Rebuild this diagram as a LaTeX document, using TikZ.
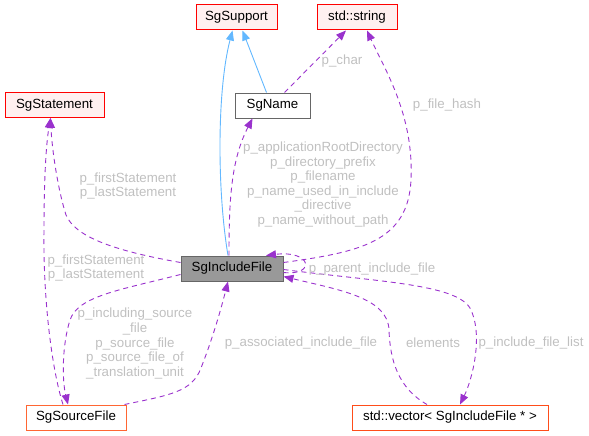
\documentclass[tikz,border=0pt]{standalone}
\usepackage{fontspec}
\setmainfont{Liberation Sans}
\usepackage{tikz}
\usetikzlibrary{arrows.meta, positioning, calc}
\definecolor{usagepurple}{HTML}{9A32CD}
\definecolor{inheritblue}{HTML}{63B8FF}
\definecolor{labelgray}{HTML}{C0C0C0}
\definecolor{pinkfill}{HTML}{FFF0F0}
\definecolor{darkline}{HTML}{666666}
\definecolor{curfill}{HTML}{999999}
\definecolor{orangeline}{HTML}{FF6633}
\definecolor{redorangeline}{HTML}{FF4D1A}
\tikzset{
  classbox/.style={draw, line width=1pt, minimum height=25pt, inner sep=0pt, text=black},
  redbox/.style={classbox, draw=red, fill=pinkfill},
  plainbox/.style={classbox, draw=darkline, fill=white},
  curbox/.style={classbox, draw=darkline, fill=curfill},
  orangebox/.style={classbox, draw=orangeline, fill=white},
  usage/.style={usagepurple, line width=0.9pt, dash pattern=on 5pt off 4pt, -{Triangle[length=10pt, width=8pt]}},
  inherit/.style={inheritblue, line width=0.9pt, -{Triangle[length=10pt, width=8pt]}},
  edgelabel/.style={text=labelgray, align=center, inner sep=0pt}
}
\begin{document}
\begin{tikzpicture}[x=1pt, y=-1pt, font=\fontsize{13.3}{14.6}\selectfont]
\useasboundingbox (0,0) rectangle (589,436);
\node[redbox, minimum width=81pt] (support) at (236.5,17.5) {SgSupport};
\node[redbox, minimum width=80pt] (string) at (357,17.5) {std::string};
\node[redbox, minimum width=99pt] (statement) at (54.5,105) {SgStatement};
\node[plainbox, minimum width=75pt] (name) at (272.5,105.5) {SgName};
\node[curbox, minimum width=102pt] (include) at (232,268.5) {SgIncludeFile};
\node[orangebox, minimum width=100pt] (source) at (76,417.5) {SgSourceFile};
\node[orangebox, draw=redorangeline, minimum width=196pt] (vector) at (450,417.5) {std::vector< SgIncludeFile * >};
\draw[inherit] ([xshift=-4pt]include.north) .. controls (217,190) and (217,90) .. ([xshift=-4pt]support.south);
\draw[inherit] ([xshift=-6pt]name.north) -- ([xshift=6pt]support.south);
\draw[usage] ([xshift=12pt]name.north) -- ([xshift=-11pt]string.south);
\draw[usage] ([yshift=6pt]include.east) .. controls (360,252) and (408,242) .. (411,180) .. controls (414,115) and (385,70) .. ([xshift=10pt]string.south);
\draw[usage] ([xshift=-3pt]include.north) .. controls (229,200) and (231,160) .. ([xshift=-20pt]name.south);
\draw[usage] ([yshift=6pt]include.west) .. controls (110,250) and (75,236) .. (66,215) .. controls (58,190) and (52,150) .. ([xshift=-4pt]statement.south);
\draw[usage] ([xshift=-13pt]source.north) .. controls (52,370) and (43,300) .. (44,230) .. controls (44,180) and (46,145) .. ([xshift=-4pt]statement.south);
\draw[usage] ([yshift=-6pt]include.west) .. controls (120,290) and (78,296) .. (70,320) .. controls (62,345) and (62,380) .. ([xshift=-8pt]source.north);
\draw[usage] ([xshift=-2pt]source.north east) .. controls (170,395) and (192,392) .. (201,368) .. controls (214,335) and (222,305) .. ([xshift=-4pt]include.south);
\draw[usage] ([yshift=-4pt]include.east) .. controls (316,276) and (312,250) .. ([xshift=34pt]include.north);
\draw[usage] ([yshift=-1pt]include.east) .. controls (380,282) and (455,284) .. (470,308) .. controls (484,335) and (472,380) .. ([xshift=10pt]vector.north);
\draw[usage] ([xshift=-23pt]vector.north) .. controls (398,388) and (390,360) .. (389,330) .. controls (388,298) and (340,290) .. ([yshift=-8pt]include.east);
\node[edgelabel] (charlabel) at (342,61) {p\_char};
\node[edgelabel] (hashlabel) at (447,105) {p\_file\_hash};
\node[edgelabel] (namelabel) at (323,184.5) {p\_applicationRootDirectory\\p\_directory\_prefix\\p\_filename\\p\_name\_used\_in\_include\\\_directive\\p\_name\_without\_path};
\node[edgelabel] (stmtlabel) at (128,186) {p\_firstStatement\\p\_lastStatement};
\node[edgelabel] (srcstmtlabel) at (96,268) {p\_firstStatement\\p\_lastStatement};
\node[edgelabel] (srclabel) at (135,343.5) {p\_including\_source\\\_file\\p\_source\_file\\p\_source\_file\_of\\\_translation\_unit};
\node[edgelabel] (assoclabel) at (301,343) {p\_associated\_include\_file};
\node[edgelabel] (parentlabel) at (372,269) {p\_parent\_include\_file};
\node[edgelabel] (elemlabel) at (433,343) {elements};
\node[edgelabel] (listlabel) at (531,343) {p\_include\_file\_list};
\end{tikzpicture}
\end{document}
